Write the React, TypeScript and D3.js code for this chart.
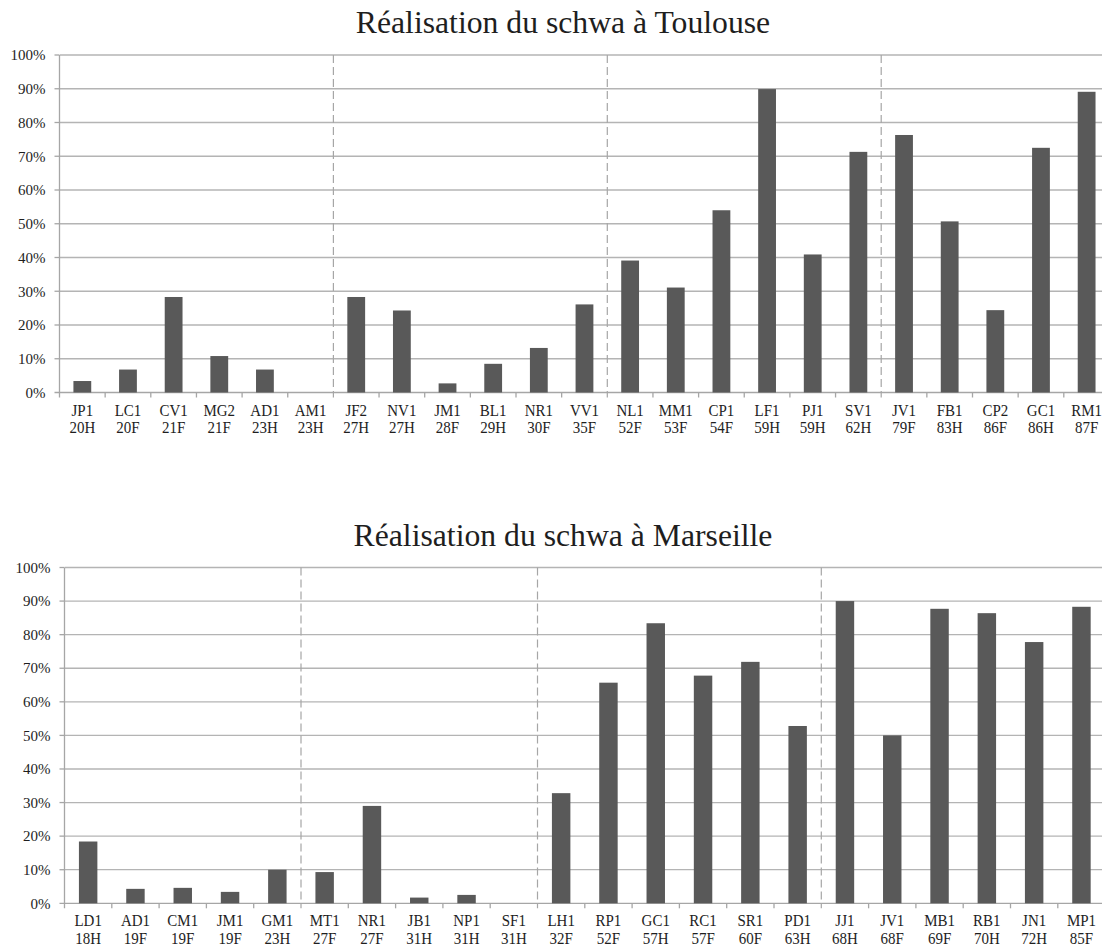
import React from "react";
import * as d3 from "d3";

// ---------- DATA ----------
const toulouseSpeakers = ["JP1","LC1","CV1","MG2","AD1","AM1","JF2","NV1","JM1","BL1","NR1","VV1","NL1","MM1","CP1","LF1","PJ1","SV1","JV1","FB1","CP2","GC1","RM1"];
const toulouseAges = ["20H","20F","21F","21F","23H","23H","27H","27H","28F","29H","30F","35F","52F","53F","54F","59H","59H","62H","79F","83H","86F","86H","87F"];
const toulouseValues = [3.4,6.8,28.3,10.8,6.8,0,28.3,24.3,2.7,8.5,13.2,26.1,39.1,31.1,54.0,89.9,40.9,71.3,76.3,50.7,24.4,72.5,89.1];
const toulouseGroups = [6,6,6,5];

const marseilleSpeakers = ["LD1","AD1","CM1","JM1","GM1","MT1","NR1","JB1","NP1","SF1","LH1","RP1","GC1","RC1","SR1","PD1","JJ1","JV1","MB1","RB1","JN1","MP1"];
const marseilleAges = ["18H","19F","19F","19F","23H","27F","27F","31H","31H","31H","32F","52F","57H","57F","60F","63H","68H","68F","69F","70H","72H","85F"];
const marseilleValues = [18.4,4.3,4.6,3.4,10.0,9.3,29.0,1.7,2.5,0,32.8,65.7,83.4,67.8,71.9,52.8,90.0,50.0,87.7,86.4,77.8,88.3];
const marseilleGroups = [5,5,6,6];

const yTicks = [0,10,20,30,40,50,60,70,80,90,100];

const BAR = "#595959";
const GRID = "#b4b4b4";
const AXIS = "#a6a6a6";
const TEXT = "#1e1e1e";
const FONT = "'Liberation Serif', 'Times New Roman', serif";

type ChartProps = {
  title: string;
  titleY: number;
  speakers: string[];
  ages: string[];
  values: number[];
  groups: number[];
  left: number;
  step: number;
  top: number;
  zero: number;
};

function Chart({ title, titleY, speakers, ages, values, groups, left, step, top, zero }: ChartProps) {
  const n = speakers.length;
  const right = left + step * n;
  const x = d3.scaleBand<number>().domain(d3.range(n)).range([left, right]).paddingInner(0.61).paddingOuter(0.305);
  const y = d3.scaleLinear().domain([0, 100]).range([zero, top]);
  const boundaries = d3.range(n + 1).map((i) => left + step * i);
  const cum = d3.cumsum(groups);
  const sepIdx = Array.from(cum).slice(0, -1);

  return (
    <g>
      <text x={563} y={titleY} textAnchor="middle" fontFamily={FONT} fontSize={31.7} fill={TEXT}>{title}</text>
      {yTicks.map((t) => (
        <g key={t}>
          <line x1={left - 5} x2={t === 0 ? right : left - 0.5} y1={y(t)} y2={y(t)} stroke={AXIS} strokeWidth={1.3} />
          {t !== 0 && <line x1={left} x2={right} y1={y(t)} y2={y(t)} stroke={GRID} strokeWidth={1.3} />}
          <text x={left - 14} y={y(t)} dy="0.35em" textAnchor="end" fontFamily={FONT} fontSize={15} fill={TEXT}>{t}%</text>
        </g>
      ))}
      <line x1={left} x2={left} y1={top} y2={zero + 5} stroke={AXIS} strokeWidth={1.3} />
      {boundaries.slice(1).map((bx, i) => (
        sepIdx.includes(i + 1) ? null :
        <line key={i} x1={bx} x2={bx} y1={zero} y2={zero + 5} stroke={AXIS} strokeWidth={1.3} />
      ))}
      {sepIdx.map((k) => (
        <line key={"s" + k} x1={boundaries[k]} x2={boundaries[k]} y1={top} y2={zero + 5} stroke={AXIS} strokeWidth={1.2} strokeDasharray="8,4" />
      ))}
      {values.map((v, i) => (
        <rect key={i} x={x(i)} y={y(v)} width={x.bandwidth()} height={zero - y(v)} fill={BAR} />
      ))}
      {speakers.map((s, i) => {
        const cx = (x(i) as number) + x.bandwidth() / 2;
        return (
          <g key={"l" + i} transform={`translate(${cx},${zero})`}>
            <text x={0} y={0} textAnchor="middle" fontFamily={FONT} fontSize={15} fill={TEXT} transform="translate(0,23) scale(1,1.12)">{s}</text>
            <text x={0} y={0} textAnchor="middle" fontFamily={FONT} fontSize={15} fill={TEXT} transform="translate(0,40.8) scale(1,1.12)">{ages[i]}</text>
          </g>
        );
      })}
    </g>
  );
}

export default function App() {
  return (
    <svg width={1102} height={946} style={{ position: "absolute", left: 0, top: 0, background: "#fff" }}>
      <rect width={1102} height={946} fill="#fff" />
      <Chart title="Réalisation du schwa à Toulouse" titleY={33} speakers={toulouseSpeakers} ages={toulouseAges} values={toulouseValues} groups={toulouseGroups} left={59.5} step={45.65} top={55} zero={392.5} />
      <Chart title="Réalisation du schwa à Marseille" titleY={545.5} speakers={marseilleSpeakers} ages={marseilleAges} values={marseilleValues} groups={marseilleGroups} left={64.5} step={47.3} top={567.5} zero={903.3} />
    </svg>
  );
}
